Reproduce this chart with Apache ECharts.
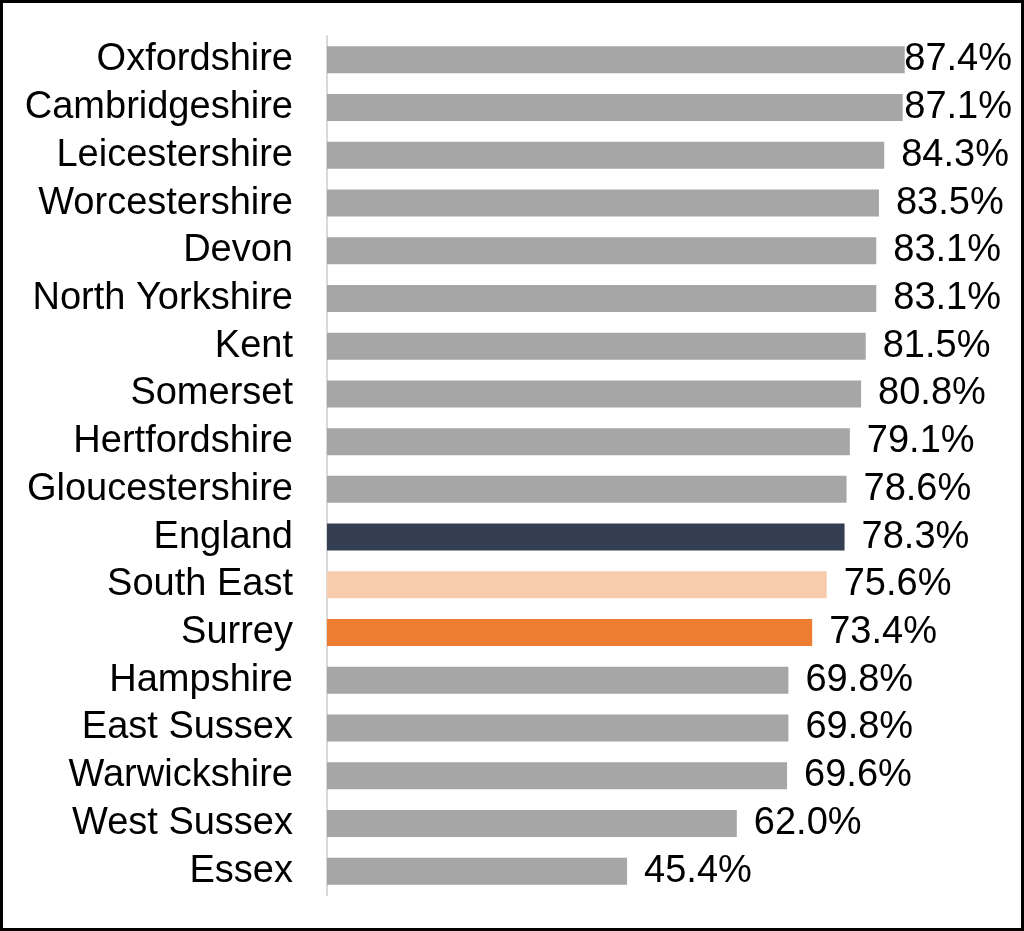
<!DOCTYPE html>
<html>
<head>
<meta charset="utf-8">
<title>Rates by area</title>
<script src="https://cdn.jsdelivr.net/npm/echarts@6/dist/echarts.min.js"></script>
<style>
    html, body { margin: 0; padding: 0; background: #fff; }
    .frame { width: 1024px; height: 931px; box-sizing: border-box; border: 3px solid #000; }
    #chart { width: 100%; height: 100%; }
</style>
</head>
<body>
<div class="frame"><div id="chart"></div></div>
<script>
    // areas, top to bottom
    var areas = ['Oxfordshire', 'Cambridgeshire', 'Leicestershire', 'Worcestershire', 'Devon',
        'North Yorkshire', 'Kent', 'Somerset', 'Hertfordshire', 'Gloucestershire', 'England',
        'South East', 'Surrey', 'Hampshire', 'East Sussex', 'Warwickshire', 'West Sussex', 'Essex'];
    var rates = [87.4, 87.1, 84.3, 83.5, 83.1, 83.1, 81.5, 80.8, 79.1, 78.6, 78.3,
        75.6, 73.4, 69.8, 69.8, 69.6, 62.0, 45.4];
    // highlighted bars
    var highlight = { 'England': '#333f50', 'South East': '#f8cbad', 'Surrey': '#ed7d31' };

    var font = '"Liberation Sans", Arial, sans-serif';
    var labelRightLimit = 1009;

    var chart = echarts.init(document.getElementById('chart'));
    chart.setOption({
        animation: false,
        grid: { left: 324, right: 33, top: 33, bottom: 33, containLabel: false },
        xAxis: {
            type: 'value', min: 0, max: 100,
            show: false
        },
        yAxis: {
            type: 'category',
            data: areas,
            inverse: true,
            axisTick: { show: false },
            axisLine: { show: true, lineStyle: { color: '#d9d9d9', width: 2 } },
            axisLabel: { color: '#000', fontSize: 38, fontFamily: font, margin: 34, interval: 0, padding: [5, 0, 0, 0] }
        },
        series: [{
            type: 'bar',
            barWidth: 27,
            data: rates.map(function (v, i) {
                return {
                    value: v,
                    itemStyle: { color: highlight[areas[i]] || '#a6a6a6' }
                };
            }),
            label: {
                show: true,
                position: 'right',
                distance: 17,
                color: '#000',
                fontSize: 38,
                fontFamily: font,
                padding: [5, 0, 0, 0],
                formatter: function (p) { return p.value.toFixed(1) + '%'; }
            },
            // keep labels inside the frame, like the original
            labelLayout: function (p) {
                var r = p.labelRect;
                if (r.x + r.width > labelRightLimit) {
                    return { dx: labelRightLimit - (r.x + r.width) };
                }
            }
        }]
    });
</script>
</body>
</html>
